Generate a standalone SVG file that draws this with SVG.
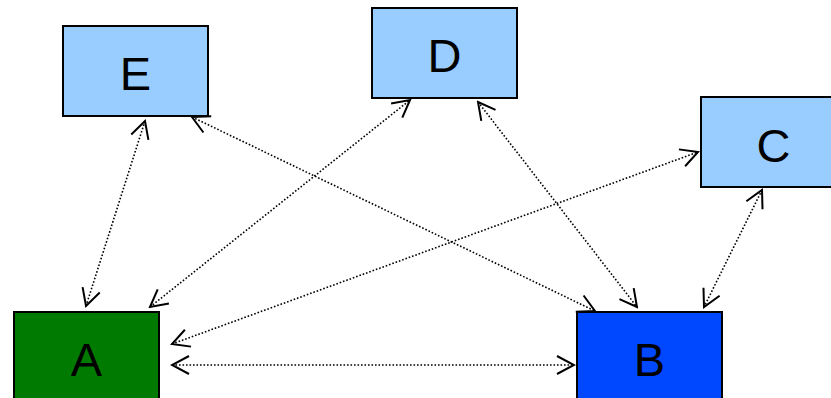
<svg xmlns="http://www.w3.org/2000/svg" width="831" height="398" viewBox="0 0 831 398">
  <style>
    .box { stroke: #000; stroke-width: 2; }
    .light { fill: #99ccff; }
    .label { font-family: "Liberation Sans", Arial, sans-serif; font-size: 47px; fill: #000; text-anchor: middle; }
    .link { fill: none; stroke: #000; stroke-width: 1.6; stroke-dasharray: 1.6 1.9; marker-start: url(#head); marker-end: url(#head); }
  </style>
  <defs>
    <marker id="head" markerUnits="userSpaceOnUse" viewBox="-19 -11 21 22" markerWidth="21" markerHeight="22" refX="0" refY="0" orient="auto-start-reverse">
      <path d="M-17,-9 L0,0 L-17,9" fill="none" stroke="#000" stroke-width="2"/>
    </marker>
  </defs>
  <rect width="831" height="398" fill="#fff"/>

  <g id="connectors">
    <line class="link" x1="172" y1="365" x2="574" y2="365"/>
    <line class="link" x1="86" y1="306" x2="145" y2="121"/>
    <line class="link" x1="150" y1="307" x2="410" y2="100"/>
    <line class="link" x1="172" y1="344" x2="698" y2="152"/>
    <line class="link" x1="192" y1="117" x2="595" y2="311"/>
    <line class="link" x1="478" y1="102" x2="637" y2="307"/>
    <line class="link" x1="762" y1="190" x2="704" y2="307"/>
  </g>

  <g id="node-E">
    <rect class="box light" x="63" y="26" width="145" height="90"/>
    <text class="label" x="135.5" y="90">E</text>
  </g>
  <g id="node-D">
    <rect class="box light" x="372" y="8" width="145" height="90"/>
    <text class="label" x="444.5" y="72">D</text>
  </g>
  <g id="node-C">
    <rect class="box light" x="701" y="97" width="145" height="90"/>
    <text class="label" x="773.5" y="162">C</text>
  </g>
  <g id="node-A">
    <rect class="box" x="14" y="312" width="145" height="90" fill="#007a00"/>
    <text class="label" x="86.5" y="376">A</text>
  </g>
  <g id="node-B">
    <rect class="box" x="577" y="312" width="145" height="90" fill="#0048ff"/>
    <text class="label" x="649.5" y="376">B</text>
  </g>
</svg>
